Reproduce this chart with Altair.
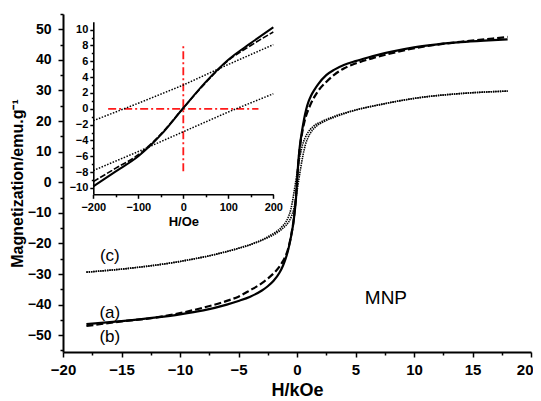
import altair as alt
import pandas as pd

FONT = "Liberation Sans"

# ---------------- main loops (H in kOe, M in emu/g) ----------------
H_a = [-18, -15, -12, -10, -8, -6, -5, -4, -3, -2.5, -2, -1.5, -1.2, -1.0, -0.8, -0.6, -0.4, -0.3, -0.2, -0.1,
       0, 0.1, 0.2, 0.3, 0.4, 0.6, 0.8, 1.0, 1.2, 1.5, 1.8, 2.5, 3.2, 4, 5, 6, 7, 8, 10, 12, 14, 16, 18]
M_a = [-46.4, -45.4, -44.2, -43.2, -41.9, -40.0, -38.8, -37.4, -35.4, -34.0, -32.2, -29.6, -27.3, -25.3, -22.8, -19.5, -15.5, -13.0, -9.8, -6.0,
       0.1, 6.0, 10.3, 13.5, 16.0, 20.5, 24.0, 26.5, 28.3, 30.3, 32.0, 35.0, 36.8, 38.3, 39.6, 40.7, 41.7, 42.6, 44.1, 45.1, 45.8, 46.3, 46.7]

H_b = [-18, -15, -12, -10, -8, -6, -5, -4, -3, -2.5, -2, -1.5, -1.2, -1.0, -0.8, -0.6, -0.4, -0.3, -0.2, -0.1,
       0, 0.1, 0.2, 0.3, 0.4, 0.6, 0.8, 1.0, 1.2, 1.5, 1.8, 2.5, 3.2, 4, 5, 6.6, 8, 9.6, 12, 14, 16, 18]
M_b = [-47.0, -45.5, -44.2, -42.8, -41.0, -38.8, -37.4, -35.3, -33.0, -31.5, -29.8, -27.6, -25.8, -24.3, -22.3, -19.3, -15.2, -12.8, -9.2, -5.2,
       0.1, 5.6, 9.8, 13.0, 15.3, 19.2, 22.0, 24.0, 25.8, 28.0, 29.8, 32.8, 35.2, 37.2, 38.8, 40.7, 42.1, 43.5, 45.0, 45.9, 46.7, 47.5]

# sample (c): descending (upper) and ascending (lower) branches
H_c_up = [-18, -14, -10, -7, -5, -4, -3, -2.4, -1.9, -1.3, -0.92, -0.72, -0.52, -0.32, -0.12,
          0.08, 0.28, 0.48, 0.68, 0.88, 1.38, 2.1, 3.3, 5, 7, 10, 14, 18]
H_c_lo = [-18, -14, -10, -7, -5, -4, -3, -2.2, -1.7, -1.08, -0.68, -0.48, -0.28, -0.08, 0.12,
          0.32, 0.52, 0.72, 0.92, 1.12, 1.62, 2.3, 3.5, 5, 7, 10, 14, 18]
M_c = [-29.4, -28.0, -25.9, -23.6, -21.6, -20.4, -18.9, -17.6, -16.5, -14.6, -12.8, -11.2, -8.8, -4.8, 0.0,
       4.8, 9.0, 12.3, 14.4, 15.9, 18.2, 19.8, 21.7, 23.6, 25.3, 27.4, 29.0, 29.8]

# ---------------- inset (H in Oe) ----------------
H_in = [-200, -150, -100, -50, 0, 50, 100, 150, 200]
Ma_in = [-9.8, -7.9, -6.0, -3.3, 0.1, 3.4, 6.2, 8.3, 10.3]
Mb_in = [-9.2, -7.5, -5.8, -3.2, 0.1, 3.3, 6.1, 8.0, 9.7]
H_in_c = [-200, -100, 0, 100, 200]
Mc_in_up = [-1.5, 0.7, 3.0, 5.6, 8.1]
Mc_in_lo = [-7.8, -5.4, -2.9, -0.4, 1.9]

# red dash-dot cross in inset
cross_h = [-167, 0]
cross_h2 = [167, 0]
cross_m = [0, -7.9]
cross_m2 = [0, 7.9]

# annotations
ann_text = ["(c)", "(a)", "(b)", "MNP"]
ann_h = [-16.0, -16.0, -16.0, 7.6]
ann_m = [-24.2, -42.7, -50.5, -37.9]
ann_size = [17, 17, 17, 19]

# ---------------- scales & axes ----------------
x_vals = [v * 2.5 for v in range(-8, 9)]
y_vals = [v * 5 for v in range(-11, 12)]

main_x = alt.X("H:Q", title="H/kOe",
               scale=alt.Scale(domain=[-20, 20], nice=False, zero=False),
               axis=alt.Axis(values=x_vals, labelExpr="datum.value % 5 === 0 ? datum.label : ''",
                             tickSize={"expr": "datum.value % 5 === 0 ? 5 : 3"},
                             labelAlign={"expr": "datum.value === 20 ? 'right' : 'center'"},
                             labelOffset={"expr": "datum.value === 20 ? 2 : 0"},
                             labelFontSize=15, labelPadding=5, titleFontSize=18, titlePadding=4,
                             labelFlush=False))
main_y = alt.Y("M:Q", title="Magnetization/emu.g⁻¹",
               scale=alt.Scale(domain=[-55.5, 55], nice=False, zero=False),
               axis=alt.Axis(values=y_vals, labelExpr="datum.value % 10 === 0 ? datum.label : ''",
                             tickSize={"expr": "datum.value % 10 === 0 ? 5 : 3"},
                             labelFontSize=14, labelPadding=7, titleFontSize=16, titlePadding=2))

df_a = pd.DataFrame({"H": H_a, "M": M_a})
df_b = pd.DataFrame({"H": H_b, "M": M_b})
df_cu = pd.DataFrame({"H": H_c_up, "M": M_c})
df_cl = pd.DataFrame({"H": H_c_lo, "M": M_c})
df_ann = pd.DataFrame({"H": ann_h, "M": ann_m, "t": ann_text, "s": ann_size})

line_a = alt.Chart(df_a).mark_line(color="black", strokeWidth=2.2, interpolate="monotone").encode(x=main_x, y=main_y)
line_b = alt.Chart(df_b).mark_line(color="black", strokeWidth=2.2, strokeDash=[7, 3], interpolate="monotone").encode(x=main_x, y=main_y)
line_cu = alt.Chart(df_cu).mark_line(color="black", strokeWidth=1.6, strokeDash=[1.4, 0.9], interpolate="monotone").encode(x=main_x, y=main_y)
line_cl = alt.Chart(df_cl).mark_line(color="black", strokeWidth=1.6, strokeDash=[1.4, 0.9], interpolate="monotone").encode(x=main_x, y=main_y)
ann = alt.Chart(df_ann).mark_text(font=FONT, color="black", align="center", baseline="middle").encode(
    x=main_x, y=main_y, text="t:N", size=alt.Size("s:Q", scale=None, legend=None))

main = alt.layer(line_a, line_b, line_cu, line_cl, ann)

# inset scales placed in pixels inside the main plot area
ix = alt.X("h:Q", title="H/Oe",
           scale=alt.Scale(domain=[-200, 200], range=[30.3, 210.3], nice=False, zero=False),
           axis=alt.Axis(orient="bottom", offset=-157.7, values=[v * 50 for v in range(-4, 5)],
                         labelExpr="datum.value % 100 === 0 ? datum.label : ''",
                         tickSize={"expr": "datum.value % 100 === 0 ? 4 : 2.5"},
                         labelFontSize=11, labelPadding=3, titleFontSize=13, titlePadding=3,
                         domainWidth=1.6, labelFlush=False))
iy = alt.Y("m:Q", title=None,
           scale=alt.Scale(domain=[-10.8, 11], range=[180.3, 7.7], nice=False, zero=False),
           axis=alt.Axis(orient="left", offset=-30.3, values=list(range(-10, 11)),
                         labelExpr="datum.value % 2 === 0 ? datum.label : ''",
                         tickSize={"expr": "datum.value % 2 === 0 ? 3.5 : 2"},
                         labelFontSize=11, labelPadding=2, domainWidth=1.6))

df_ia = pd.DataFrame({"h": H_in, "m": Ma_in})
df_ib = pd.DataFrame({"h": H_in, "m": Mb_in})
df_icu = pd.DataFrame({"h": H_in_c, "m": Mc_in_up})
df_icl = pd.DataFrame({"h": H_in_c, "m": Mc_in_lo})
df_cross = pd.DataFrame({"h": cross_h, "h2": cross_h2, "m": cross_m, "m2": cross_m2})

i_a = alt.Chart(df_ia).mark_line(color="black", strokeWidth=2, interpolate="monotone").encode(x=ix, y=iy)
i_b = alt.Chart(df_ib).mark_line(color="black", strokeWidth=1.6, strokeDash=[6, 2], interpolate="monotone").encode(x=ix, y=iy)
i_cu = alt.Chart(df_icu).mark_line(color="black", strokeWidth=1.5, strokeDash=[1.5, 1.5]).encode(x=ix, y=iy)
i_cl = alt.Chart(df_icl).mark_line(color="black", strokeWidth=1.5, strokeDash=[1.5, 1.5]).encode(x=ix, y=iy)
i_cross = alt.Chart(df_cross).mark_rule(color="#ff1a1a", strokeWidth=1.8, strokeDash=[8, 3, 2, 3]).encode(
    x=ix, x2="h2:Q", y=iy, y2="m2:Q")

inset = alt.layer(i_cross, i_a, i_b, i_cu, i_cl)

chart = alt.layer(main, inset).resolve_scale(x="independent", y="independent").properties(
    width=468, height=338,
    autosize=alt.AutoSizeParams(type="none"),
    padding={"left": 55, "top": 6, "right": 2, "bottom": 47},
).configure_view(stroke=None).configure_axis(
    grid=False, domainColor="black", domainWidth=2, tickColor="black", tickWidth=1.5,
    labelFont=FONT, titleFont=FONT, labelFontWeight="bold", titleFontWeight="bold",
    labelColor="black", titleColor="black",
)

chart.save("out.html", embed_options={"renderer": "svg", "actions": False})
